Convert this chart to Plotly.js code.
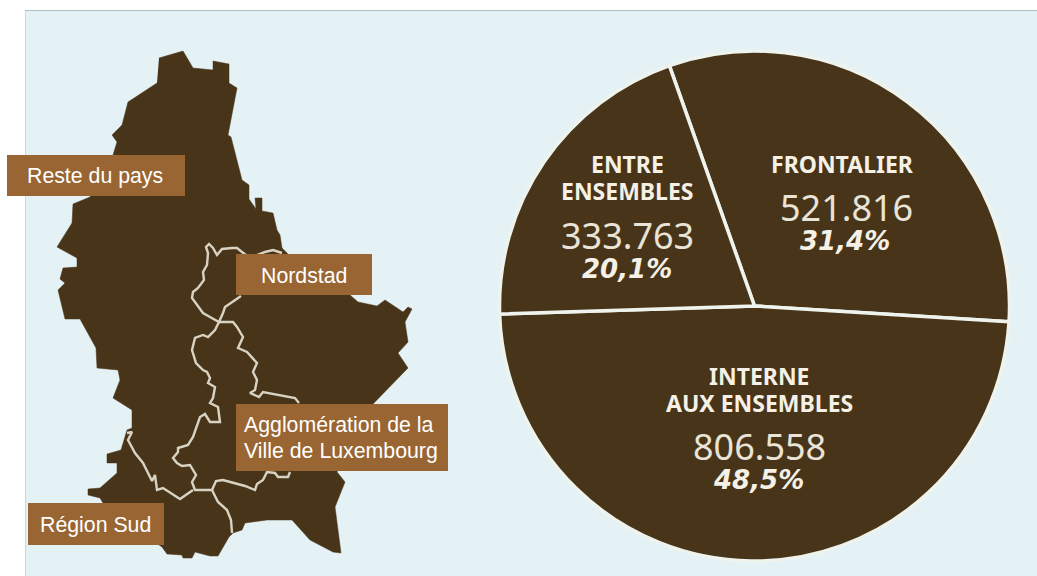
<!DOCTYPE html>
<html><head><meta charset="utf-8">
<script src="https://cdn.plot.ly/plotly-3.0.1.min.js"></script>
<style>html,body{margin:0;padding:0;background:#fff}#c{width:1037px;height:576px}</style>
</head><body><div id="c"></div>
<script>
// Pie data
const pieCategories = ["FRONTALIER", "INTERNE AUX ENSEMBLES", "ENTRE ENSEMBLES"];
const pieValues = [521816, 806558, 333763];
const pieValueLabels = ["521.816", "806.558", "333.763"];
const pieShareLabels = ["31,4%", "48,5%", "20,1%"];
const pieTitleLines = [["FRONTALIER"], ["INTERNE", "AUX ENSEMBLES"], ["ENTRE", "ENSEMBLES"]];

// Map geometry
const countryX = [159,183,193,213,213,229,229,237,228,231,242,249,249,256,255,262,262,273,277,280,282,288,320,350,358,377,385,403,408,412,405,408,398,408,373,337,345,335,341,333,310,292,267,245,242,233,229,218,210,195,192,183,182,167,162,130,103,100,88,88,100,117,117,107,107,121,127,132,132,113,120,118,97,96,80,65,58,65,60,63,77,77,57,72,73,90,113,117,112,122,128,157];
const countryY = [58,51,68,70,61,64,83,88,135,137,180,185,199,209,198,198,211,213,230,235,248,254,275,295,302,306,300,312,307,309,322,342,353,368,404,472,482,507,553,552,540,520,520,523,530,533,537,556,556,552,558,558,555,554,547,525,503,498,495,489,488,473,463,463,454,450,430,428,410,398,380,370,368,348,319,319,290,283,279,268,267,258,247,223,204,197,155,142,135,125,102,83];
const nordstadX = [282,273,265,250,242,237,232,222,217,213,209,206,208,207,203,204,198,193,192,197,203,210,219,223,225,241];
const nordstadY = [253,250,252,258,252,248,248,249,255,248,244,247,253,265,272,280,288,292,298,305,313,317,322,313,307,296];
const agglomWestX = [219,215,208,203,195,192,196,203,207,210,208,215,213,212,210,218,220,210,205,200,193,188,178,178,173,177,182,190,196,192,195,212,216,223,245,255,257,263,267,275,278,288,290];
const agglomWestY = [322,330,337,335,338,350,363,370,372,378,383,387,398,400,403,407,422,422,414,417,437,445,448,452,458,463,466,465,475,482,490,490,481,480,486,490,484,480,472,473,477,477,472];
const agglomEastX = [219,233,237,243,238,247,257,253,257,255,250,259,263,288,295,299];
const agglomEastY = [322,322,327,337,348,352,363,372,380,390,393,397,392,397,398,403];
const sudNorthX = [127,132,128,135,143,152,155,157,163,180,193];
const sudNorthY = [433,432,440,453,463,481,475,490,488,499,490];
const sudEastX = [212,218,227,231,232];
const sudEastY = [490,502,510,520,533];

// Label boxes
const labelLines = [["Reste du pays"], ["Nordstad"], ["Agglomération de la", "Ville de Luxembourg"], ["Région Sud"]];
const labelLeft = [7,236,236,28];
const labelRight = [185,372,448,164];
const labelTop = [155,254,404,503];
const labelBottom = [196,295,471,545];
const labelTextX = [26,260,243,39];
const labelTextY = [[176],[276],[425,451],[525]];

const BROWN = "#483519", BOX = "#996633", CREAM = "#f5f1e6", LINE = "#d9d3c3", PANEL = "#e4f2f6";
const W = 1037, H = 576;

const inner = [[nordstadX,nordstadY],[agglomWestX,agglomWestY],[agglomEastX,agglomEastY],[sudNorthX,sudNorthY],[sudEastX,sudEastY]];
const traces = [
  {type:"scatter",mode:"lines",x:countryX,y:countryY,fill:"toself",fillcolor:BROWN,line:{color:BROWN,width:0.5},hoverinfo:"skip",showlegend:false},
  ...inner.map(([x,y])=>({type:"scatter",mode:"lines",x,y,line:{color:LINE,width:2.4},hoverinfo:"skip",showlegend:false})),
  {type:"pie",labels:pieCategories,values:pieValues,sort:false,direction:"clockwise",rotation:-19.5,textinfo:"none",hoverinfo:"label+value+percent",
   marker:{colors:[BROWN,BROWN,BROWN],line:{color:"#eef3ee",width:3.5}},showlegend:false,
   domain:{x:[499.5/W,1009.5/W],y:[1-561/H,1-51/H]}}
];

const shapes = [
  {type:"rect",layer:"below",xref:"x",yref:"y",x0:25,x1:W,y0:11,y1:H,fillcolor:PANEL,line:{width:0}},
  {type:"line",layer:"below",xref:"x",yref:"y",x0:25,x1:W,y0:10.5,y1:10.5,line:{color:"#a8bfc6",width:1}},
  {type:"line",layer:"below",xref:"x",yref:"y",x0:25.5,x1:25.5,y0:11,y1:H,line:{color:"#c4dbe3",width:1}},
  ...labelLeft.map((l,i)=>({type:"rect",layer:"above",xref:"x",yref:"y",x0:l,x1:labelRight[i],y0:labelTop[i],y1:labelBottom[i],fillcolor:BOX,line:{width:0}}))
];

const pieTitleX = [842,759,627];
const pieValueX = [846,759.5,627];
const pieShareX = [845,758.5,627];
const pieTitleY = [[164],[376,403],[164,191]];
const pieValueY = [207,446,235];
const pieShareY = [241,480,269];
const ann = (text,x,y,font,xanchor)=>({text,x,y,xref:"x",yref:"y",xanchor:xanchor||"center",yanchor:"middle",showarrow:false,align:"center",font,borderpad:0});
const annotations = [];
labelLines.forEach((lines,i)=>lines.forEach((t,j)=>annotations.push(ann(t,labelTextX[i],labelTextY[i][j],{family:"Liberation Sans, Arial",size:21.3,color:"#fff"},"left"))));
pieCategories.forEach((c,i)=>{
  pieTitleLines[i].forEach((l,j)=>annotations.push(ann(l,pieTitleX[i],pieTitleY[i][j],{family:"Noto Sans",size:23,color:CREAM,weight:700})));
  annotations.push(ann(pieValueLabels[i],pieValueX[i],pieValueY[i],{family:"Noto Sans",size:36,color:"#e9e4d7"}));
  annotations.push(ann("<b><i>"+pieShareLabels[i]+"</i></b>",pieShareX[i],pieShareY[i],{family:"DejaVu Sans",size:26,color:CREAM}));
});

Plotly.newPlot("c",traces,{
  width:W,height:H,margin:{l:0,r:0,t:0,b:0},paper_bgcolor:"#ffffff",plot_bgcolor:"rgba(0,0,0,0)",
  xaxis:{range:[0,W],visible:false,fixedrange:true},
  yaxis:{range:[H,0],visible:false,fixedrange:true},
  shapes,annotations,showlegend:false
},{displayModeBar:false,staticPlot:true});
</script></body></html>
